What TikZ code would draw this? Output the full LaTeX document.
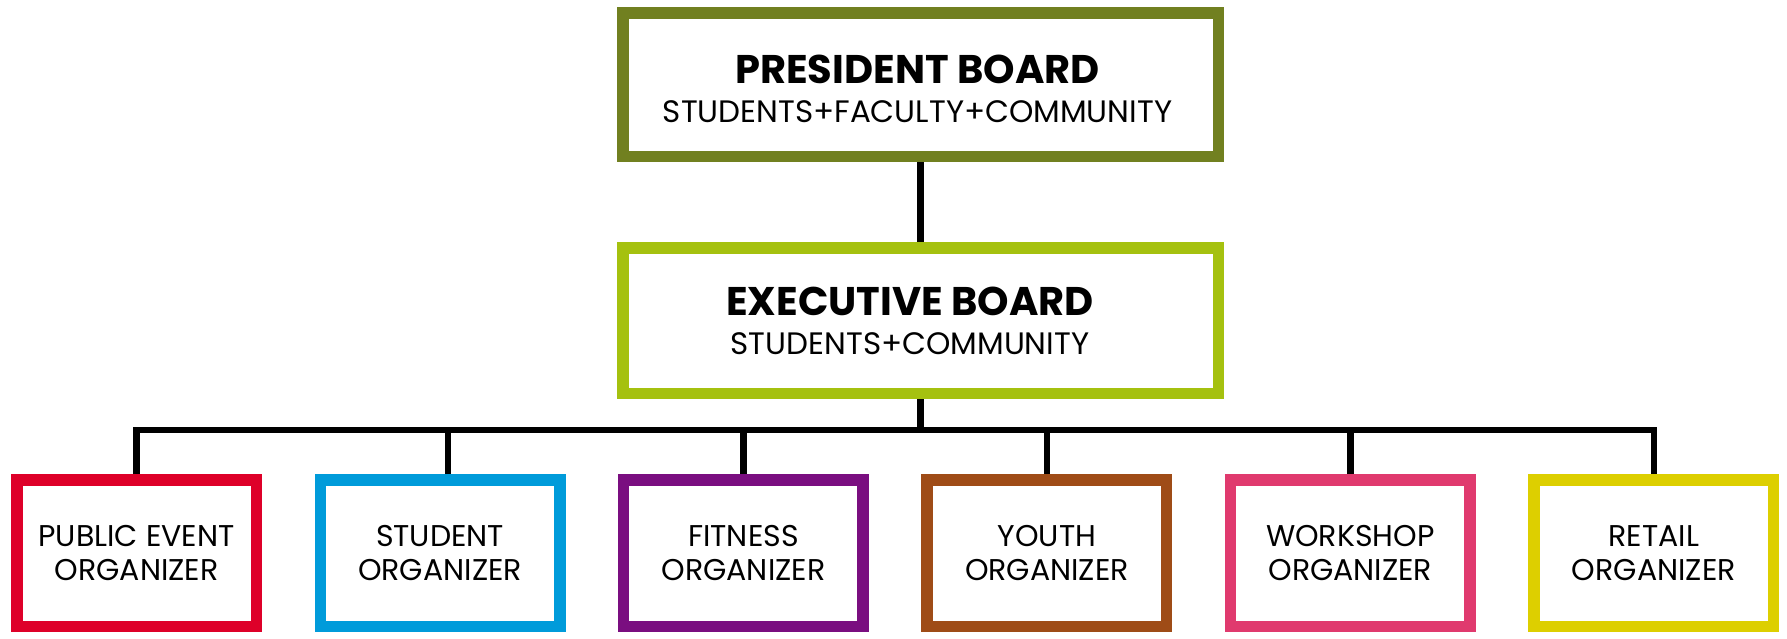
\documentclass[tikz,border=0pt]{standalone}
\usepackage{fontspec}
\setmainfont{Poppins}
\definecolor{presC}{HTML}{718020}
\definecolor{execC}{HTML}{A5C10F}
\definecolor{redC}{HTML}{DE0029}
\definecolor{blueC}{HTML}{009BDA}
\definecolor{purpleC}{HTML}{7A0E80}
\definecolor{brownC}{HTML}{9F4C17}
\definecolor{pinkC}{HTML}{E03A6E}
\definecolor{yellowC}{HTML}{DDCF00}
\newcommand\mytitlefont{\fontsize{40}{46}\selectfont\bfseries}
\newcommand\mysubfont{\fontsize{31}{37}\selectfont}
\newcommand\mylabfont{\fontsize{30}{34}\selectfont}
\tikzset{
  board/.style={draw, line width=11.5pt, fill=white, inner sep=0pt, outer sep=5.75pt,
    minimum width=595.5pt, minimum height=144.5pt},
  boardtext/.style={inner sep=0pt, align=center, text=black},
  unitbox/.style={draw, line width=11.5pt, fill=white, inner sep=0pt, outer sep=5.75pt,
    minimum width=239.5pt, minimum height=146.5pt, align=center, text=black, font=\mylabfont},
  conn/.style={draw=black, line width=6.6pt, line join=miter}
}
\begin{document}
\begin{tikzpicture}[x=1pt,y=-1pt]
\useasboundingbox[fill=white] (0,0) rectangle (1787,638);
\node[board, draw=presC, minimum height=143.5pt] (pres) at (920.5,84.5) {};
\node[boardtext] (prestext) at (917.5,88.5)
  {{\mytitlefont PRESIDENT BOARD}\\[16pt]{\mysubfont STUDENTS+FACULTY+COMMUNITY}};
\node[board, draw=execC, minimum height=145.5pt] (exec) at (920.5,320.5) {};
\node[boardtext] (exectext) at (910,321)
  {{\mytitlefont EXECUTIVE BOARD}\\[16.5pt]{\mysubfont STUDENTS+COMMUNITY}};
\node[unitbox, draw=redC] (u1) at (136.5,553) {PUBLIC EVENT\\ORGANIZER};
\node[unitbox, draw=blueC] (u2) at (440,553) {STUDENT\\ORGANIZER};
\node[unitbox, draw=purpleC] (u3) at (743.4,553) {FITNESS\\ORGANIZER};
\node[unitbox, draw=brownC] (u4) at (1046.9,553) {YOUTH\\ORGANIZER};
\node[unitbox, draw=pinkC] (u5) at (1350.3,553) {WORKSHOP\\ORGANIZER};
\node[unitbox, draw=yellowC] (u6) at (1653.8,553) {RETAIL\\ORGANIZER};
\coordinate (bus) at (0,430);
\draw[conn] (pres.south) -- (exec.north);
\draw[conn] (exec.south) -- (exec.south |- bus);
\draw[conn] (u1.north) -- (u1.north |- bus) -| (u6.north);
\draw[conn] ([xshift=8pt]u2.north) -- ([xshift=8pt]u2.north |- bus);
\draw[conn] (u3.north) -- (u3.north |- bus);
\draw[conn] (u4.north) -- (u4.north |- bus);
\draw[conn] (u5.north) -- (u5.north |- bus);
\end{tikzpicture}
\end{document}
